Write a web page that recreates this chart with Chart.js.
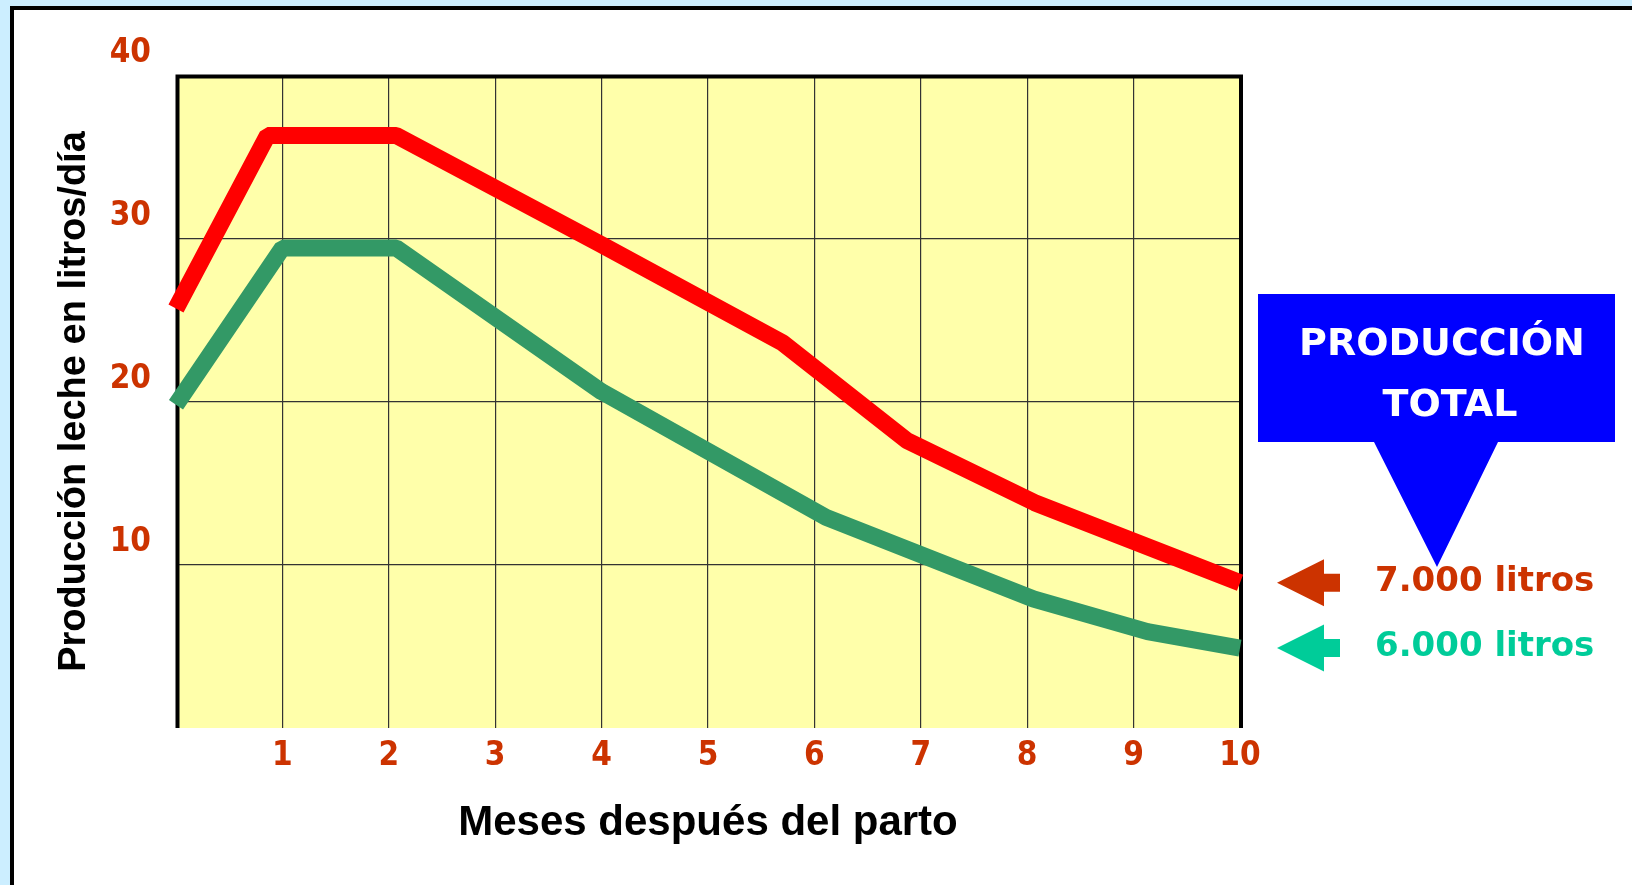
<!DOCTYPE html>
<html lang="es">
<head>
<meta charset="utf-8">
<title>Producción leche</title>
<script src="https://cdn.jsdelivr.net/npm/chart.js@4.4.1/dist/chart.umd.min.js"></script>
<style>
  html, body { margin: 0; padding: 0; }
  body { width: 1632px; height: 885px; background: #cceeff; position: relative; overflow: hidden; }
  #panel { position: absolute; left: 10px; top: 6px; right: 0; bottom: 0; background: #fff;
           border-left: 4px solid #000; border-top: 4px solid #000; }
  #wrap { position: absolute; left: 0; top: 0; width: 1632px; height: 885px; }
</style>
</head>
<body>
<div id="panel"></div>
<div id="wrap"><canvas id="chart"></canvas></div>
<script>
/* ============================
   DATA
============================ */
const xTicks = [0, 1, 2, 3, 4, 5, 6, 7, 8, 9, 10];
const yTicks = [0, 10, 20, 30, 40];

// 7.000 litros por lactación
const monthsHigh = [0, 0.86, 2.07, 4, 5.7, 6.87, 8.07, 10];
const litresHigh = [25.7, 36.3, 36.3, 29.6, 23.6, 17.6, 13.8, 8.9];

// 6.000 litros por lactación
const monthsLow = [0, 1, 2.07, 4, 6.11, 8.06, 9.13, 10];
const litresLow = [19.8, 29.4, 29.4, 20.6, 12.9, 7.9, 5.9, 4.9];

const seriesLabels = ['7.000 litros', '6.000 litros'];
const calloutLines = ['PRODUCCIÓN', 'TOTAL'];

/* ============================
   STYLE
============================ */
const RED = '#ff0000';
const GREEN = '#339966';
const LABEL_RED = '#cc3300';
const LABEL_GREEN = '#00cc99';
const TICK_FONT = "'DejaVu Sans Condensed', 'DejaVu Sans', sans-serif";
const TITLE_FONT = "'Liberation Sans', Arial, sans-serif";
const NOTE_FONT = "'DejaVu Sans', sans-serif";

const toPoints = (xs, ys) => xs.map((x, i) => ({ x, y: ys[i] }));

/* ============================
   PLUGIN: plot frame + callout
============================ */
const decorations = {
    id: 'decorations',
    beforeDraw(chart) {
        const { ctx, chartArea: a } = chart;
        ctx.save();
        ctx.fillStyle = '#ffffaa';
        ctx.fillRect(a.left, a.top, a.right - a.left, a.bottom - a.top);
        ctx.restore();
    },
    beforeDatasetsDraw(chart) {
        // black frame on left, top and right only
        const { ctx, chartArea: a } = chart;
        ctx.save();
        ctx.strokeStyle = '#000';
        ctx.lineWidth = 4;
        ctx.lineJoin = 'miter';
        ctx.beginPath();
        ctx.moveTo(a.left + 1.5, a.bottom);
        ctx.lineTo(a.left + 1.5, a.top + 1.5);
        ctx.lineTo(a.right + 1, a.top + 1.5);
        ctx.lineTo(a.right + 1, a.bottom);
        ctx.stroke();
        ctx.restore();
    },
    afterDraw(chart) {
        const { ctx } = chart;
        const y = chart.scales.y;

        // blue callout
        ctx.save();
        ctx.fillStyle = '#0000ff';
        ctx.beginPath();
        ctx.moveTo(1258, 294);
        ctx.lineTo(1615, 294);
        ctx.lineTo(1615, 442);
        ctx.lineTo(1498, 442);
        ctx.lineTo(1437, 567);
        ctx.lineTo(1374, 442);
        ctx.lineTo(1258, 442);
        ctx.closePath();
        ctx.fill();

        ctx.fillStyle = '#ffffff';
        ctx.font = 'bold 38px ' + NOTE_FONT;
        ctx.textAlign = 'center';
        ctx.textBaseline = 'middle';
        ctx.fillText(calloutLines[0], 1442, 345);
        ctx.fillText(calloutLines[1], 1450, 406);

        // arrows + totals, level with each line's last value
        const ends = [
            { v: litresHigh[litresHigh.length - 1], color: LABEL_RED, text: seriesLabels[0] },
            { v: litresLow[litresLow.length - 1], color: LABEL_GREEN, text: seriesLabels[1] }
        ];
        ends.forEach(e => {
            const py = y.getPixelForValue(e.v);
            ctx.fillStyle = e.color;
            ctx.beginPath();
            ctx.moveTo(1277, py);
            ctx.lineTo(1324, py - 23.5);
            ctx.lineTo(1324, py - 9);
            ctx.lineTo(1340, py - 9);
            ctx.lineTo(1340, py + 9);
            ctx.lineTo(1324, py + 9);
            ctx.lineTo(1324, py + 23.5);
            ctx.closePath();
            ctx.fill();

            ctx.font = 'bold 34px ' + NOTE_FONT;
            ctx.textAlign = 'left';
            ctx.textBaseline = 'middle';
            ctx.fillText(e.text, 1375, py - 1);
        });
        ctx.restore();
    }
};

/* ============================
   CHART
============================ */
new Chart(document.getElementById('chart'), {
    type: 'line',
    data: {
        datasets: [
            {
                label: seriesLabels[0],
                data: toPoints(monthsHigh, litresHigh),
                borderColor: RED,
                borderWidth: 17,
                borderCapStyle: 'butt',
                borderJoinStyle: 'bevel',
                pointRadius: 0,
                tension: 0,
                clip: false
            },
            {
                label: seriesLabels[1],
                data: toPoints(monthsLow, litresLow),
                borderColor: GREEN,
                borderWidth: 17,
                borderCapStyle: 'butt',
                borderJoinStyle: 'bevel',
                pointRadius: 0,
                tension: 0,
                clip: false
            }
        ]
    },
    options: {
        responsive: true,
        maintainAspectRatio: false,
        animation: false,
        layout: { padding: { left: 0, top: 75, right: 392, bottom: 0 } },
        plugins: { legend: { display: false }, tooltip: { enabled: false } },
        scales: {
            x: {
                type: 'linear',
                min: xTicks[0],
                max: xTicks[xTicks.length - 1],
                afterBuildTicks: s => { s.ticks = xTicks.map(v => ({ value: v })); },
                afterFit: s => { s.height = 157; },
                border: { display: false },
                grid: {
                    color: ctx => (ctx.tick && (ctx.tick.value === 0 || ctx.tick.value === 10)) ? 'rgba(0,0,0,0)' : '#333',
                    lineWidth: 1.2,
                    drawTicks: false
                },
                ticks: {
                    padding: 9,
                    color: LABEL_RED,
                    font: { family: TICK_FONT, size: 33, weight: 'bold' },
                    callback: v => (v === 0 ? '' : String(v))
                },
                title: {
                    display: true,
                    text: 'Meses después del parto',
                    color: '#000',
                    font: { family: TITLE_FONT, size: 42, weight: 'bold' },
                    padding: { top: 0, bottom: 36 }
                }
            },
            y: {
                min: yTicks[0],
                max: yTicks[yTicks.length - 1],
                afterBuildTicks: s => { s.ticks = yTicks.map(v => ({ value: v })); },
                afterFit: s => { s.width = 176; },
                border: { display: false },
                grid: {
                    color: ctx => (ctx.tick && (ctx.tick.value === 0 || ctx.tick.value === 40)) ? 'rgba(0,0,0,0)' : '#333',
                    lineWidth: 1.2,
                    drawTicks: false
                },
                ticks: {
                    padding: 25,
                    labelOffset: -22,
                    color: LABEL_RED,
                    font: { family: TICK_FONT, size: 33, weight: 'bold' },
                    callback: v => (v === 0 ? '' : String(v))
                },
                title: {
                    display: true,
                    text: 'Producción leche en litros/día',
                    color: '#000',
                    font: { family: TITLE_FONT, size: 38, weight: 'bold' },
                    padding: { top: 52, bottom: 0 }
                }
            }
        }
    },
    plugins: [decorations]
});
</script>
</body>
</html>
